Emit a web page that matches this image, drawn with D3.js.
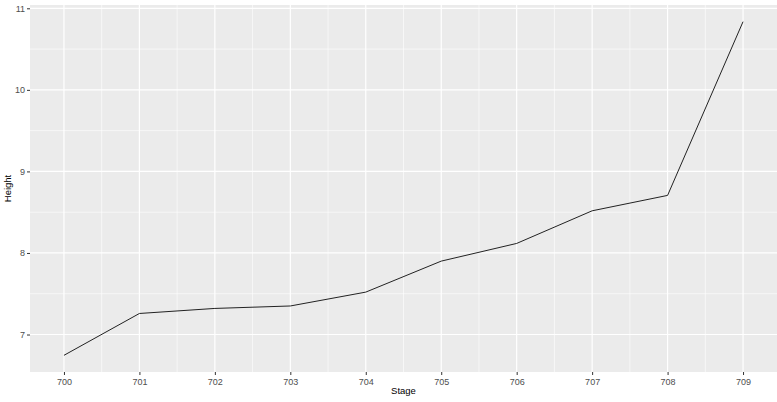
<!DOCTYPE html>
<style>
  body { margin: 0; background: #fff; }
  .tick text { font: 9px "Liberation Sans", Arial, sans-serif; fill: #4d4d4d; }
  .axis-title { font: 9.5px "Liberation Sans", Arial, sans-serif; fill: #000; }
</style>
<body>
  <div id="svg_frame"></div>
</body>
<script src="https://cdnjs.cloudflare.com/ajax/libs/d3/7.8.5/d3.min.js"></script>
<script>
  // data
  var stages = [700, 701, 702, 703, 704, 705, 706, 707, 708, 709];
  var heights = [6.745, 7.258, 7.32, 7.35, 7.52, 7.90, 8.117, 8.517, 8.706, 10.836];
  var yTicks = [7, 8, 9, 10, 11];

  var width = 777, height = 402;
  var panel = { left: 30, right: 777, top: 5, bottom: 372 };

  var data = stages.map(function (s, i) { return { x: s, y: heights[i] }; });

  // ggplot style 5% expansion
  var xMin = d3.min(stages), xMax = d3.max(stages), xPad = (xMax - xMin) * 0.05;
  var yMin = d3.min(heights), yMax = d3.max(heights), yPad = (yMax - yMin) * 0.05;

  var x = d3.scaleLinear()
    .domain([xMin - xPad, xMax + xPad])
    .range([panel.left, panel.right]);

  var y = d3.scaleLinear()
    .domain([yMin - yPad, yMax + yPad])
    .range([panel.bottom, panel.top]);

  var svg = d3.select("#svg_frame").append("svg")
    .attr("width", width)
    .attr("height", height);

  svg.append("rect")
    .attr("x", panel.left).attr("y", panel.top)
    .attr("width", panel.right - panel.left)
    .attr("height", panel.bottom - panel.top)
    .attr("fill", "#ebebeb");

  var grid = svg.append("g");

  // minor gridlines
  var xMinor = stages.slice(0, -1).map(function (s) { return s + 0.5; });
  var yMinor = yTicks.map(function (t) { return t - 0.5; }).filter(function (t) { return t > y.domain()[0]; });

  grid.selectAll(".xminor").data(xMinor).enter().append("line")
    .attr("x1", x).attr("x2", x)
    .attr("y1", panel.top).attr("y2", panel.bottom)
    .attr("stroke", "#fff").attr("stroke-width", 0.6);

  grid.selectAll(".yminor").data(yMinor).enter().append("line")
    .attr("y1", y).attr("y2", y)
    .attr("x1", panel.left).attr("x2", panel.right)
    .attr("stroke", "#fff").attr("stroke-width", 0.6);

  // major gridlines
  grid.selectAll(".xmajor").data(stages).enter().append("line")
    .attr("x1", x).attr("x2", x)
    .attr("y1", panel.top).attr("y2", panel.bottom)
    .attr("stroke", "#fff").attr("stroke-width", 1.2);

  grid.selectAll(".ymajor").data(yTicks).enter().append("line")
    .attr("y1", y).attr("y2", y)
    .attr("x1", panel.left).attr("x2", panel.right)
    .attr("stroke", "#fff").attr("stroke-width", 1.2);

  var line = d3.line()
    .x(function (d) { return x(d.x); })
    .y(function (d) { return y(d.y); });

  svg.append("path")
    .datum(data)
    .attr("d", line)
    .attr("fill", "none")
    .attr("stroke", "#222")
    .attr("stroke-width", 1);

  // axes
  var xAxis = svg.append("g")
    .attr("transform", "translate(0," + panel.bottom + ")")
    .call(d3.axisBottom(x).tickValues(stages).tickFormat(d3.format("d")).tickSize(3).tickPadding(4));

  var yAxis = svg.append("g")
    .attr("transform", "translate(" + panel.left + ",0)")
    .call(d3.axisLeft(y).tickValues(yTicks).tickFormat(d3.format("d")).tickSize(3).tickPadding(2));

  [xAxis, yAxis].forEach(function (a) {
    a.select(".domain").remove();
    a.selectAll(".tick line").attr("stroke", "#333");
  });

  svg.append("text")
    .attr("class", "axis-title")
    .attr("x", (panel.left + panel.right) / 2)
    .attr("y", 394)
    .attr("text-anchor", "middle")
    .text("Stage");

  svg.append("text")
    .attr("class", "axis-title")
    .attr("transform", "translate(11," + (panel.top + panel.bottom) / 2 + ") rotate(-90)")
    .attr("text-anchor", "middle")
    .text("Height");
</script>
